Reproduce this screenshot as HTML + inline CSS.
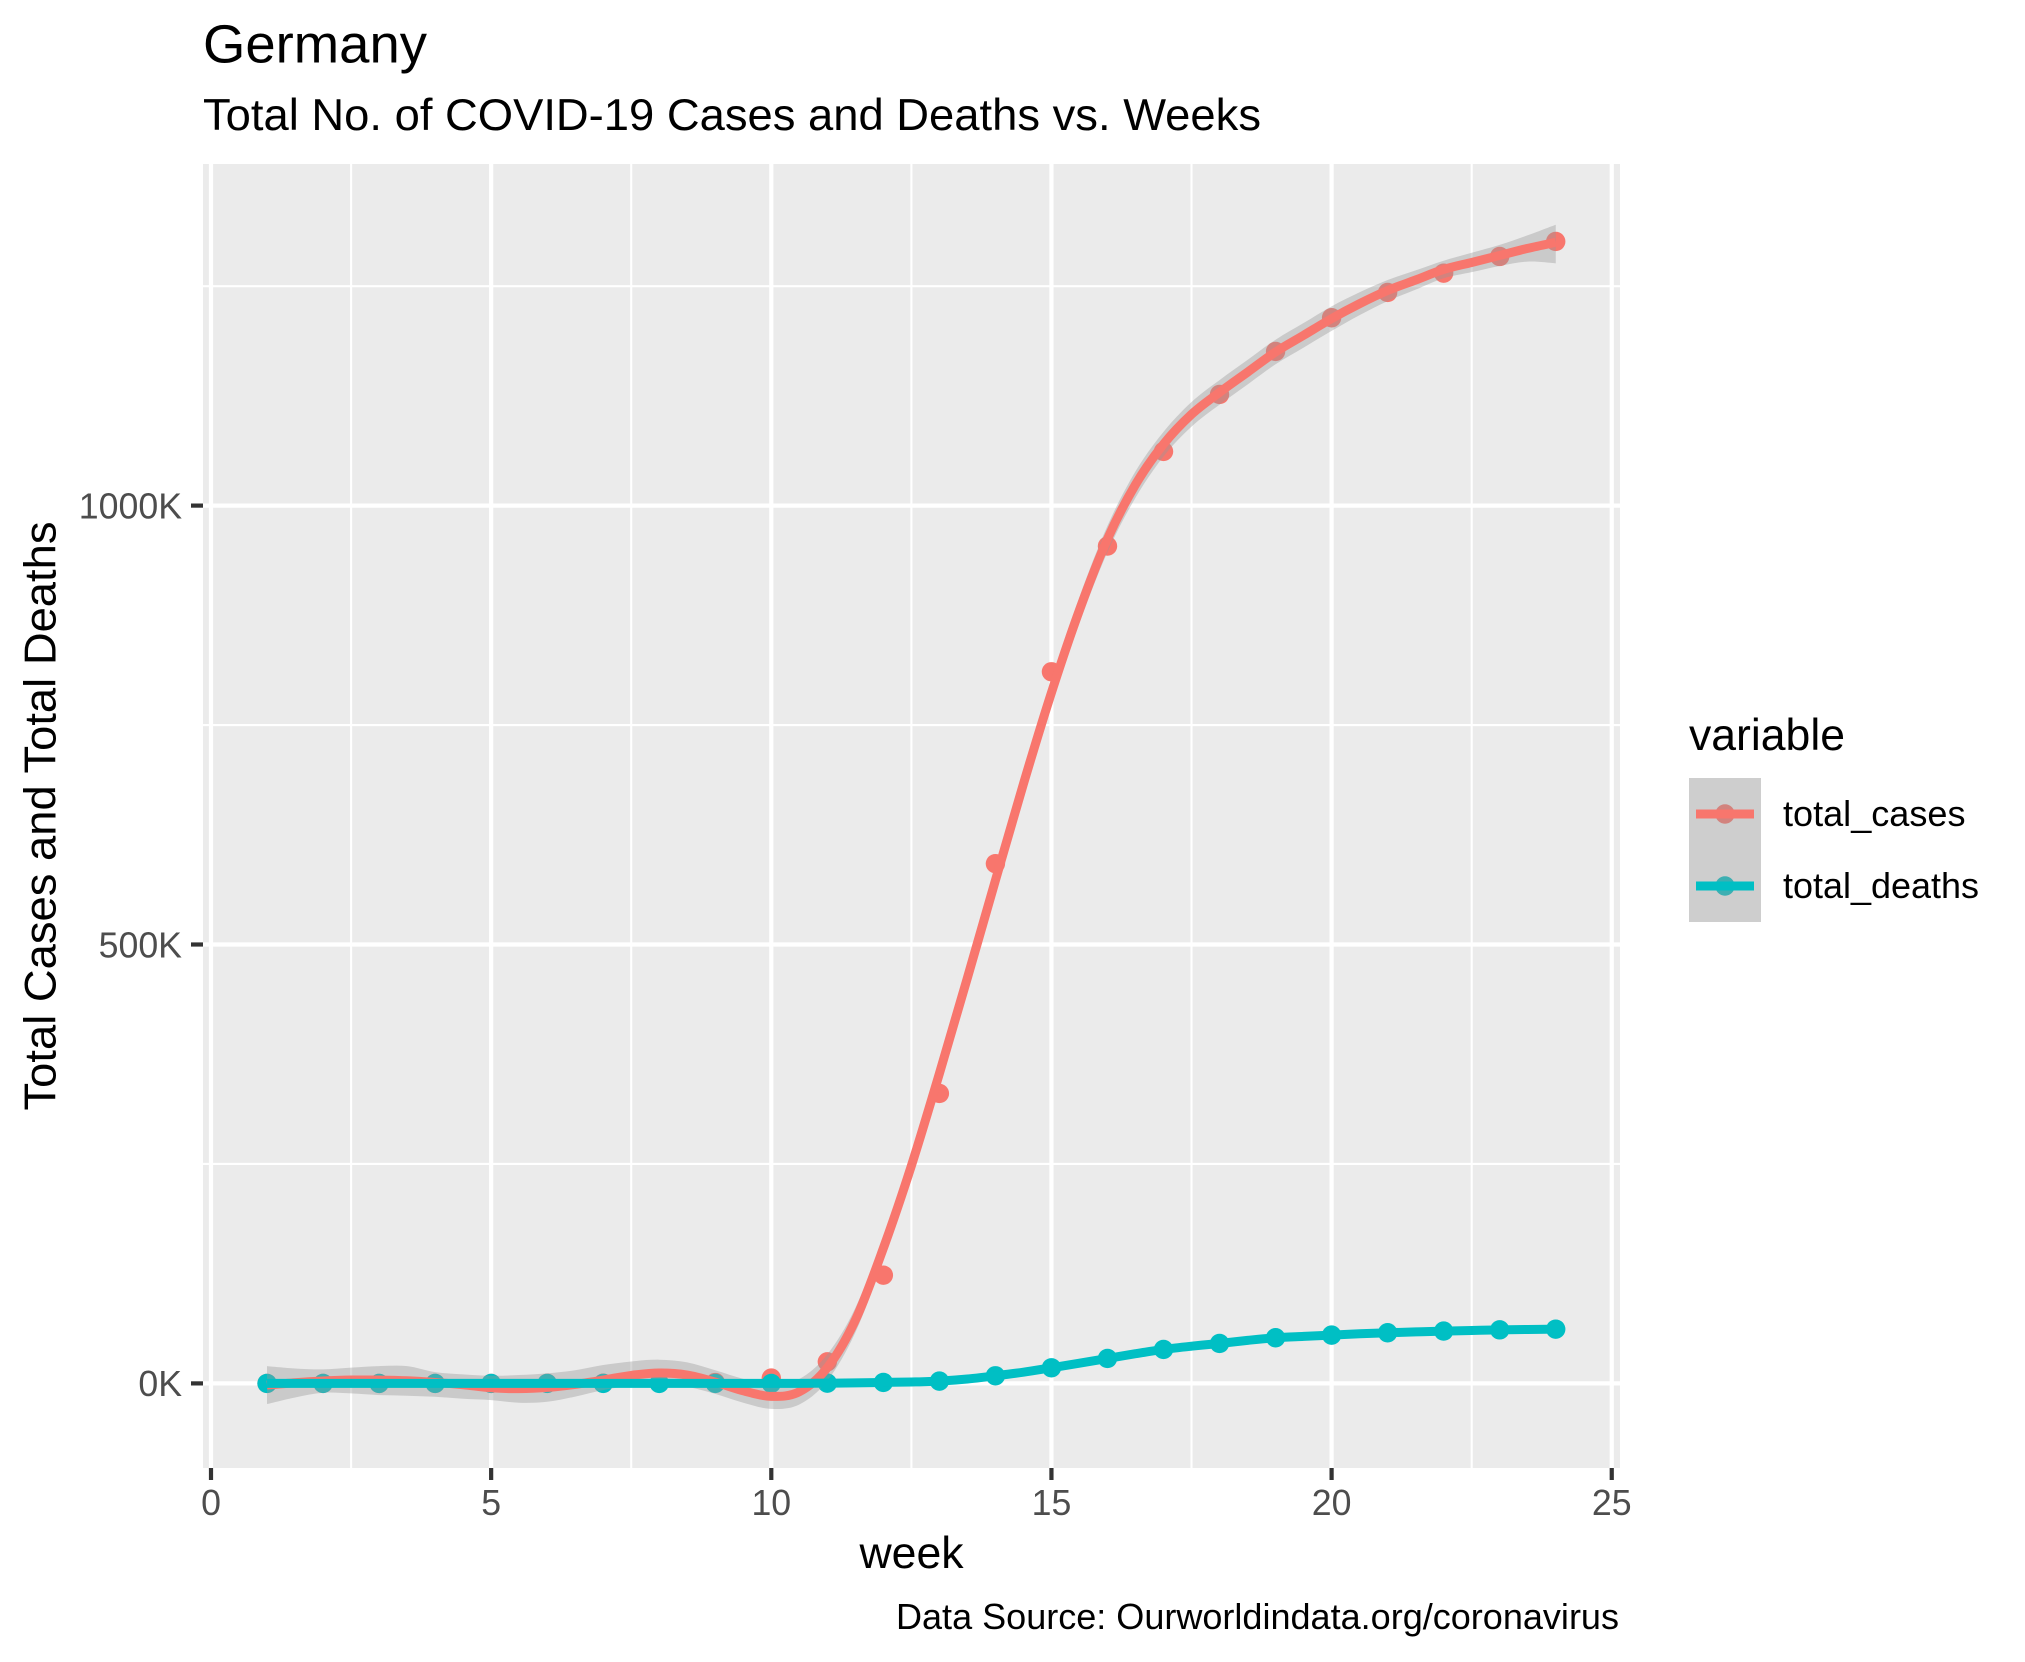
<!DOCTYPE html>
<html lang="en">
<head>
<meta charset="utf-8">
<title>Germany COVID-19 Total Cases and Deaths</title>
<style>
html,body{margin:0;padding:0;background:#fff;}
svg{display:block;font-family:"Liberation Sans",Arial,sans-serif;}
</style>
</head>
<body>
<svg id="chart" xmlns="http://www.w3.org/2000/svg" width="2025" height="1662" viewBox="0 0 2025 1662">
  <text x="203" y="62.5" font-size="53.5" fill="#000" textLength="224" lengthAdjust="spacingAndGlyphs">Germany</text>
  <text x="203" y="130" font-size="44.6" fill="#000" textLength="1058" lengthAdjust="spacingAndGlyphs">Total No. of COVID-19 Cases and Deaths vs. Weeks</text>
  <rect x="203" y="164" width="1417" height="1304" fill="#EBEBEB"/>
  <g id="grid"></g>
  <g id="marks"></g>
  <g id="axes"></g>
  <text x="911.5" y="1568" font-size="44.6" text-anchor="middle" fill="#000">week</text>
  <text transform="translate(55.5,816) rotate(-90)" font-size="44.6" text-anchor="middle" fill="#000" textLength="589" lengthAdjust="spacingAndGlyphs">Total Cases and Total Deaths</text>
  <text x="896" y="1629" font-size="35.7" fill="#000" textLength="723" lengthAdjust="spacingAndGlyphs">Data Source: Ourworldindata.org/coronavirus</text>

  <g>
    <text x="1689" y="750" font-size="44.6" fill="#000" textLength="156" lengthAdjust="spacingAndGlyphs">variable</text>
    <rect x="1689" y="778" width="72" height="72" fill="#F2F2F2"/>
    <rect x="1689" y="850" width="72" height="72" fill="#F2F2F2"/>
    <circle cx="1725" cy="814" r="9.7" fill="#F8766D"/>
    <circle cx="1725" cy="886" r="9.7" fill="#00BFC4"/>
    <rect x="1689" y="778" width="72" height="144" fill="#999999" fill-opacity="0.4"/>
    <line x1="1696" x2="1754" y1="814" y2="814" stroke="#F8766D" stroke-width="9"/>
    <line x1="1696" x2="1754" y1="886" y2="886" stroke="#00BFC4" stroke-width="9"/>
    <text x="1783" y="826" font-size="35.7" fill="#000" textLength="182.5" lengthAdjust="spacingAndGlyphs">total_cases</text>
    <text x="1783" y="898" font-size="35.7" fill="#000" textLength="196" lengthAdjust="spacingAndGlyphs">total_deaths</text>
  </g>
</svg>
<script>
// Observed weekly values, in thousands
const weeks = [1,2,3,4,5,6,7,8,9,10,11,12,13,14,15,16,17,18,19,20,21,22,23,24];
const totalCases = [0,0,0,0,0,0.1,0.2,0.4,1,6,24.6,123.3,330.3,592.1,810.7,953.9,1061.7,1126.6,1175.6,1214,1242.8,1264.8,1283.8,1300.9];
const totalDeaths = [0,0,0,0,0,0,0,0,0,0,0.3,1.1,2.6,8.7,17.8,28.4,38.7,45.5,52,55,57.7,59.6,61,61.8];

// Fitted smooth curve, read every half week from week 1 to week 24
const smoothWeeks = [1,1.5,2,2.5,3,3.5,4,4.5,5,5.5,6,6.5,7,7.5,8,8.5,9,9.5,10,10.5,11,11.5,12,12.5,13,13.5,14,14.5,15,15.5,16,16.5,17,17.5,18,18.5,19,19.5,20,20.5,21,21.5,22,22.5,23,23.5,24];
const casesSmooth = [-1.9,0.8,2.7,3.8,3.8,3,1.1,-1.5,-5,-6,-4.6,-1.1,3.8,9.1,11.8,9.5,1.5,-8.4,-14.8,-9.5,18,72,154,248,353,462,573,683,787,881,962,1024,1070,1104,1129,1152,1175,1194,1213,1230,1245,1257,1269,1277,1285,1293,1300];
const casesLow = [-23.5,-16,-10.6,-11.4,-13.3,-14,-15.2,-17.5,-19,-22,-20.9,-15,-7.6,-3,-2,-4,-12,-22,-29,-24,3,58,141,235,340,449,560,669,772,866,947,1009,1056,1090,1115,1138,1161,1180,1199,1217,1233,1246,1259,1266,1273,1278,1276];
const casesHigh = [19.7,17,16,18,19.7,19.7,12.9,10.3,8.7,9.5,11.4,15,20.9,25,27,24,15,5.2,-0.6,5,33,86,167,261,366,475,586,697,802,896,977,1039,1084,1118,1143,1166,1189,1208,1227,1243,1257,1268,1279,1288,1297,1308,1320];
const deathsSmooth = [0,0,0,0,0,0,0,0,0,0,0,0,0,0,0,0,0,0,0,0,0.3,0.6,1.1,1.6,2.6,5,8.7,12.8,17.8,23,28.4,33.8,38.7,42.4,45.5,49,52,53.6,55,56.5,57.7,58.7,59.6,60.3,61,61.4,61.8];

// Axis breaks and labels
const xTicks = [0,5,10,15,20,25];
const xMinorTicks = [2.5,7.5,12.5,17.5,22.5];
const yTicks = [0,500,1000];
const yTickLabels = ["0K","500K","1000K"];
const yMinorTicks = [250,750,1250];

const SVG_NS = "http://www.w3.org/2000/svg";
const PANEL = {left:203, right:1620, top:164, bottom:1468};
const COLORS = {cases:"#F8766D", deaths:"#00BFC4"};

function xScale(week){ return 211 + 56.03 * week; }
function yScale(value){ return 1383.4 - 0.8778 * value; }

function makeEl(tag, parent, attrs){
  const el = document.createElementNS(SVG_NS, tag);
  for (const k in attrs) el.setAttribute(k, attrs[k]);
  parent.appendChild(el);
  return el;
}

function splineSegments(pts){
  let d = "";
  for (let i = 0; i < pts.length - 1; i++){
    const p0 = pts[Math.max(0, i - 1)];
    const p1 = pts[i];
    const p2 = pts[i + 1];
    const p3 = pts[Math.min(pts.length - 1, i + 2)];
    const c1x = p1[0] + (p2[0] - p0[0]) / 6;
    const c1y = p1[1] + (p2[1] - p0[1]) / 6;
    const c2x = p2[0] - (p3[0] - p1[0]) / 6;
    const c2y = p2[1] - (p3[1] - p1[1]) / 6;
    d += " C" + c1x.toFixed(2) + " " + c1y.toFixed(2) + " " + c2x.toFixed(2) + " " + c2y.toFixed(2) + " " + p2[0].toFixed(2) + " " + p2[1].toFixed(2);
  }
  return d;
}

function curvePath(xs, ys){
  const pts = xs.map(function(w, i){ return [xScale(w), yScale(ys[i])]; });
  return "M" + pts[0][0].toFixed(2) + " " + pts[0][1].toFixed(2) + splineSegments(pts);
}

function ribbonPath(xs, low, high){
  const up = xs.map(function(w, i){ return [xScale(w), yScale(high[i])]; });
  const down = xs.map(function(w, i){ return [xScale(w), yScale(low[i])]; }).reverse();
  return "M" + up[0][0].toFixed(2) + " " + up[0][1].toFixed(2) + splineSegments(up) +
         " L" + down[0][0].toFixed(2) + " " + down[0][1].toFixed(2) + splineSegments(down) + " Z";
}

const grid = document.getElementById("grid");
const marks = document.getElementById("marks");
const axes = document.getElementById("axes");

yMinorTicks.forEach(function(v){
  const el = makeEl("line", grid, {x1:PANEL.left, x2:PANEL.right, y1:yScale(v), y2:yScale(v), stroke:"#fff", "stroke-width":2.1});
  
  
});
xMinorTicks.forEach(function(w){
  const el = makeEl("line", grid, {x1:xScale(w), x2:xScale(w), y1:PANEL.top, y2:PANEL.bottom, stroke:"#fff", "stroke-width":2.1});
  
  
});
yTicks.forEach(function(v){
  const el = makeEl("line", grid, {x1:PANEL.left, x2:PANEL.right, y1:yScale(v), y2:yScale(v), stroke:"#fff", "stroke-width":4.2});
  
  
});
xTicks.forEach(function(w){
  const el = makeEl("line", grid, {x1:xScale(w), x2:xScale(w), y1:PANEL.top, y2:PANEL.bottom, stroke:"#fff", "stroke-width":4.2});
  
  
});

weeks.forEach(function(w, i){
  const el = makeEl("circle", marks, {cx:xScale(w), cy:yScale(totalCases[i]), r:9.7, fill:COLORS.cases});
  
  
});
weeks.forEach(function(w, i){
  const el = makeEl("circle", marks, {cx:xScale(w), cy:yScale(totalDeaths[i]), r:9.7, fill:COLORS.deaths});
  
  
});

const casesRibbon = makeEl("path", marks, {d:ribbonPath(smoothWeeks, casesLow, casesHigh), fill:"#999999", "fill-opacity":0.4});



const casesLine = makeEl("path", marks, {d:curvePath(smoothWeeks, casesSmooth), fill:"none", stroke:COLORS.cases, "stroke-width":9});



const deathsLine = makeEl("path", marks, {d:curvePath(smoothWeeks, deathsSmooth), fill:"none", stroke:COLORS.deaths, "stroke-width":9});



xTicks.forEach(function(w){
  const tick = makeEl("line", axes, {x1:xScale(w), x2:xScale(w), y1:PANEL.bottom, y2:PANEL.bottom + 12, stroke:"#333333", "stroke-width":4.2});
  
  
  const label = makeEl("text", axes, {x:xScale(w), y:1515, "font-size":35.7, "text-anchor":"middle", fill:"#4D4D4D"});
  
  
  label.textContent = String(w);
});
yTicks.forEach(function(v, i){
  const tick = makeEl("line", axes, {x1:PANEL.left - 12, x2:PANEL.left, y1:yScale(v), y2:yScale(v), stroke:"#333333", "stroke-width":4.2});
  
  
  const label = makeEl("text", axes, {x:182, y:yScale(v) + 12.8, "font-size":35.7, "text-anchor":"end", fill:"#4D4D4D"});
  
  
  label.textContent = yTickLabels[i];
});
</script>
</body>
</html>
